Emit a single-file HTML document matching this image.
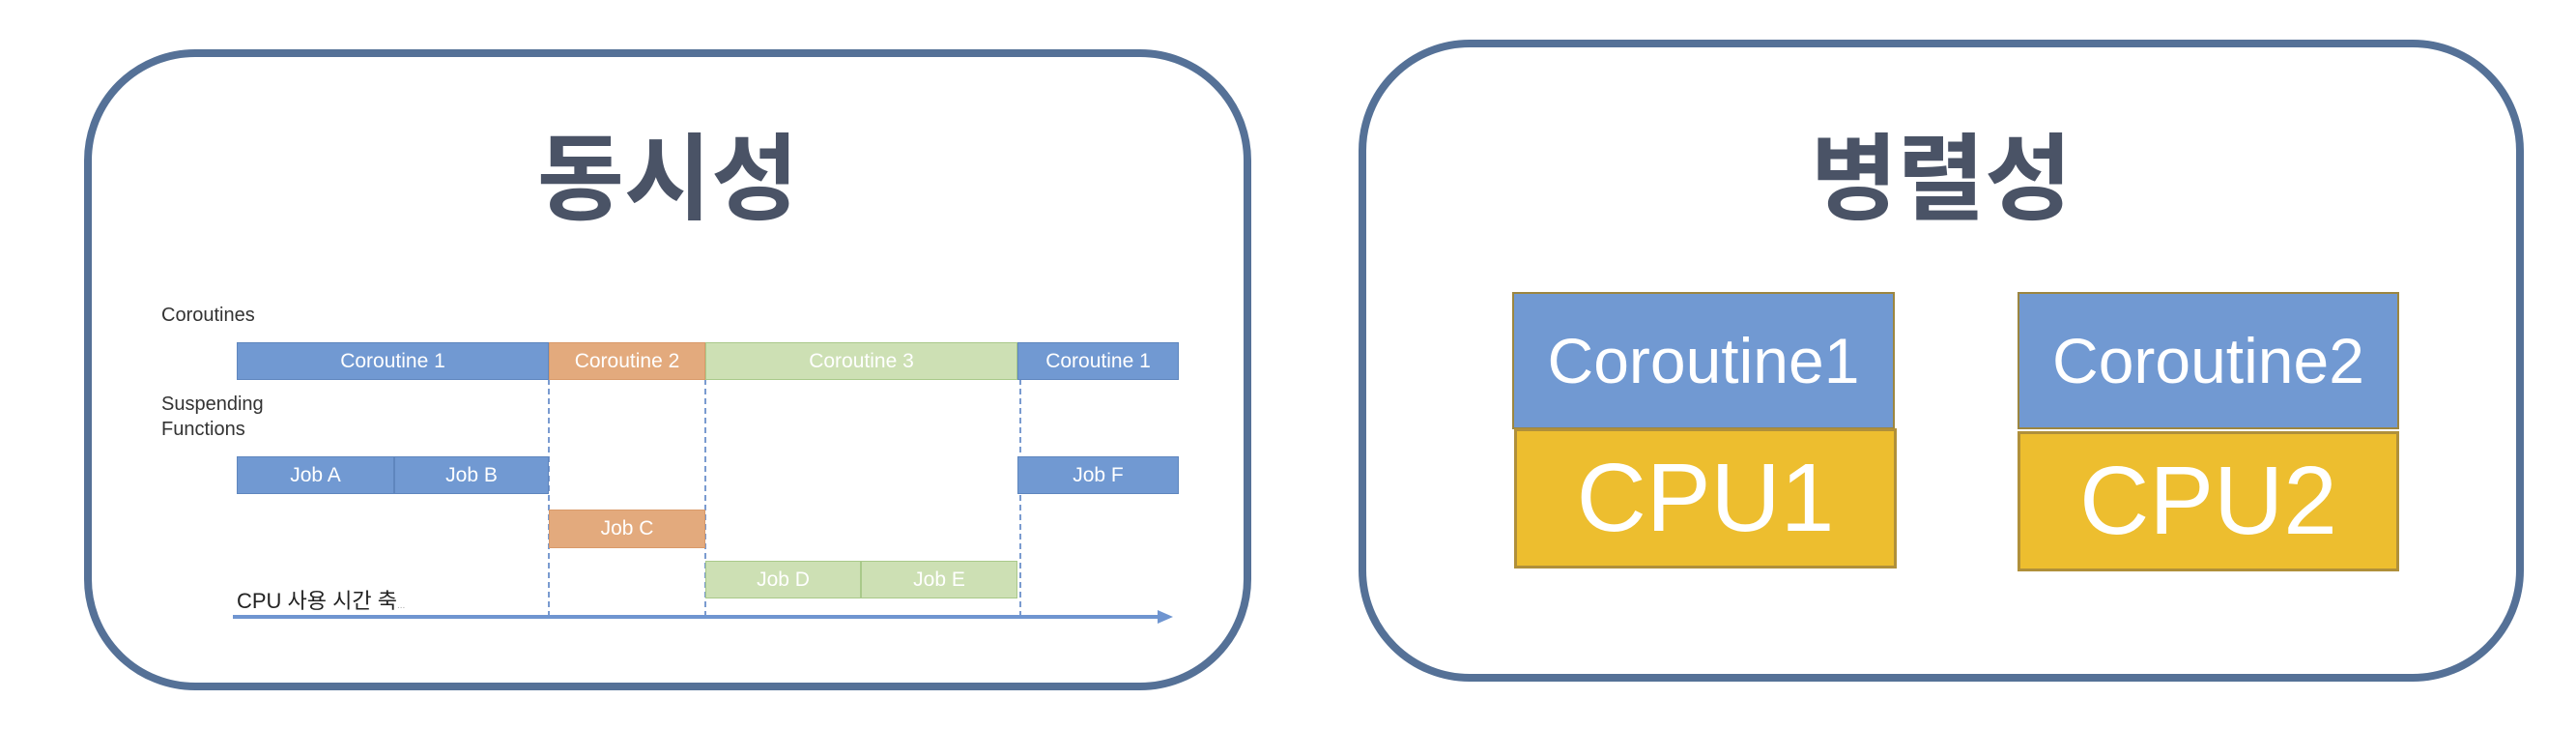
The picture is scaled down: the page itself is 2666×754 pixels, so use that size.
<!DOCTYPE html>
<html><head><meta charset="utf-8"><style>
body{margin:0;width:2666px;height:754px;background:#fff;position:relative;overflow:hidden;font-family:"Liberation Sans","Noto Sans CJK KR",sans-serif}
.a{position:absolute;box-sizing:border-box}
.box{border:8px solid #557197;border-radius:115px;background:#fff}
.title{font-family:"Noto Sans CJK KR","NanumGothic",sans-serif;font-weight:700;color:#4a5366;font-size:98px;text-align:center;line-height:1}
.bar{color:#fff;font-size:21px;display:flex;align-items:center;justify-content:center}
.b{background:#7199d2;border:1px solid #5f86be}
.o{background:#e3aa7d;border:1px solid #d99a6a}
.g{background:#cde0b4;border:1px solid #a9c98a}
.lbl{font-size:20px;color:#333;line-height:26px}
.dash{border-left:2px dashed #7a9bd0;width:0}
.rc{background:#7199d2;border:2px solid #9c8640;color:#fff;font-size:66px;display:flex;align-items:center;justify-content:center}
.cp{background:#edbe2f;border:3px solid #b0903a;color:#fff;font-size:100px;display:flex;align-items:center;justify-content:center}
</style></head><body>
<div class="a box" style="left:87px;top:51px;width:1208px;height:663px"></div>
<div class="a box" style="left:1406px;top:41px;width:1206px;height:664px"></div>
<div class="a title" style="left:87px;top:128px;width:1208px">동시성</div>
<div class="a title" style="left:1406px;top:128px;width:1206px">병렬성</div>

<div class="a lbl" style="left:167px;top:313px">Coroutines</div>
<div class="a lbl" style="left:167px;top:405px">Suspending<br>Functions</div>

<div class="a dash" style="left:567px;top:392px;height:246px"></div>
<div class="a dash" style="left:729px;top:392px;height:246px"></div>
<div class="a dash" style="left:1055px;top:392px;height:246px"></div>

<div class="a bar b" style="left:245px;top:354px;width:323px;height:39px">Coroutine 1</div>
<div class="a bar o" style="left:568px;top:354px;width:162px;height:39px">Coroutine 2</div>
<div class="a bar g" style="left:730px;top:354px;width:323px;height:39px">Coroutine 3</div>
<div class="a bar b" style="left:1053px;top:354px;width:167px;height:39px">Coroutine 1</div>

<div class="a bar b" style="left:245px;top:472px;width:163px;height:39px">Job A</div>
<div class="a bar b" style="left:408px;top:472px;width:160px;height:39px">Job B</div>
<div class="a bar b" style="left:1053px;top:472px;width:167px;height:39px">Job F</div>
<div class="a bar o" style="left:568px;top:527px;width:162px;height:40px">Job C</div>
<div class="a bar g" style="left:730px;top:580px;width:161px;height:39px">Job D</div>
<div class="a bar g" style="left:891px;top:580px;width:162px;height:39px">Job E</div>

<div class="a" style="left:245px;top:604px;font-size:22px;color:#222;font-family:'Liberation Sans','Noto Sans CJK KR',sans-serif">CPU 사용 시간 축<span style="font-size:10px;color:#aaa">...</span></div>
<svg class="a" style="left:0;top:0" width="1300" height="700"><line x1="241" y1="638" x2="1200" y2="638" stroke="#6f95d0" stroke-width="4"/><polygon points="1198,631 1214,638 1198,645" fill="#6f95d0"/></svg>

<div class="a rc" style="left:1565px;top:302px;width:396px;height:142px">Coroutine1</div>
<div class="a cp" style="left:1567px;top:443px;width:396px;height:145px">CPU1</div>
<div class="a rc" style="left:2088px;top:302px;width:395px;height:142px">Coroutine2</div>
<div class="a cp" style="left:2088px;top:446px;width:395px;height:145px">CPU2</div>
</body></html>
